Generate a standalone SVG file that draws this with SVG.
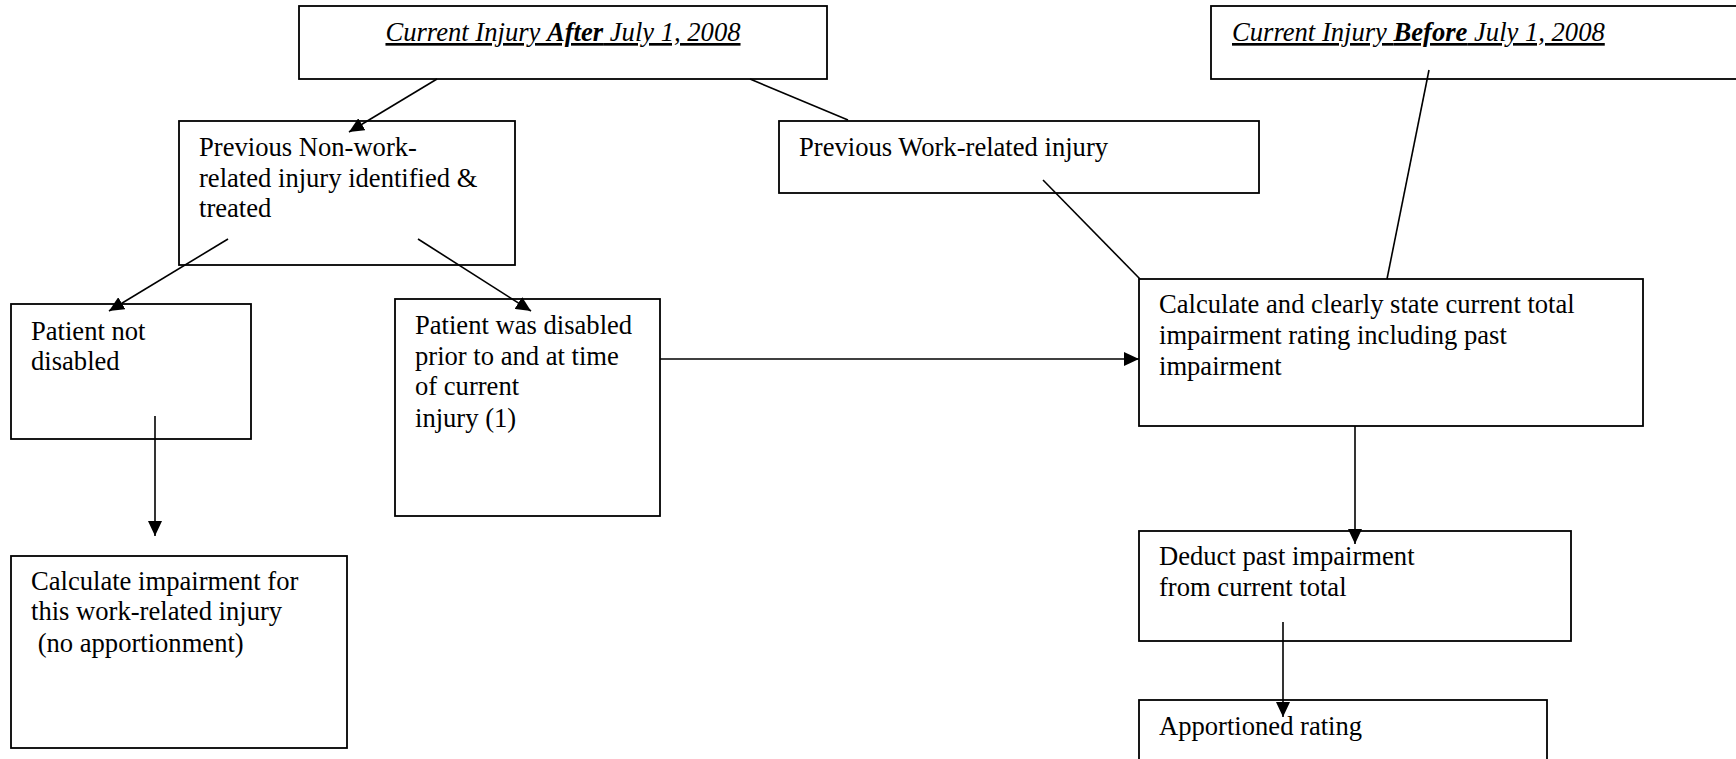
<svg xmlns="http://www.w3.org/2000/svg" width="1736" height="759" viewBox="0 0 1736 759">
<style>
rect.box{fill:#fff;stroke:#000;stroke-width:1.8}
text{font-family:"Liberation Serif","Times New Roman",serif;font-size:26.6px;fill:#000}
.title{font-style:italic;text-decoration:underline}
.b{font-weight:bold}
.conn line{stroke:#000;stroke-width:1.6}
</style>
<defs>
<marker id="arr" markerUnits="userSpaceOnUse" markerWidth="15" markerHeight="14" refX="15" refY="7" orient="auto">
<path d="M0,0 L15,7 L0,14 Z" fill="#000"/>
</marker>
</defs>
<rect width="1736" height="759" fill="#fff"/>

<g id="after">
<rect class="box" x="299" y="6" width="528" height="73"/>
<text class="title" x="563" y="41" text-anchor="middle">Current Injury <tspan class="b">After</tspan> July 1, 2008</text>
</g>
<g id="before">
<rect class="box" x="1211" y="6" width="540" height="73"/>
<text class="title" x="1232" y="41">Current Injury <tspan class="b">Before</tspan> July 1, 2008</text>
</g>
<g id="nonwork">
<rect class="box" x="179" y="121" width="336" height="144"/>
<text x="199" y="156">Previous Non-work-</text>
<text x="199" y="186.5">related injury identified &amp;</text>
<text x="199" y="217">treated</text>
</g>
<g id="work">
<rect class="box" x="779" y="121" width="480" height="72"/>
<text x="799" y="156">Previous Work-related injury</text>
</g>
<g id="notdisabled">
<rect class="box" x="11" y="304" width="240" height="135"/>
<text x="31" y="340">Patient not</text>
<text x="31" y="370">disabled</text>
</g>
<g id="wasdisabled">
<rect class="box" x="395" y="299" width="265" height="217"/>
<text x="415" y="334">Patient was disabled</text>
<text x="415" y="365">prior to and at time</text>
<text x="415" y="395">of current</text>
<text x="415" y="427">injury (1)</text>
</g>
<g id="calcnoapp">
<rect class="box" x="11" y="556" width="336" height="192"/>
<text x="31" y="590">Calculate impairment for</text>
<text x="31" y="620">this work-related injury</text>
<text x="31" y="652" xml:space="preserve"> (no apportionment)</text>
</g>
<g id="calctotal">
<rect class="box" x="1139" y="279" width="504" height="147"/>
<text x="1159" y="313">Calculate and clearly state current total</text>
<text x="1159" y="344">impairment rating including past</text>
<text x="1159" y="375">impairment</text>
</g>
<g id="deduct">
<rect class="box" x="1139" y="531" width="432" height="110"/>
<text x="1159" y="565">Deduct past impairment</text>
<text x="1159" y="596">from current total</text>
</g>
<g id="apportioned">
<rect class="box" x="1139" y="700" width="408" height="80"/>
<text x="1159" y="735">Apportioned rating</text>
</g>

<g class="conn" id="connectors">
<line x1="437" y1="79" x2="349" y2="132" marker-end="url(#arr)"/>
<line x1="750" y1="79" x2="848" y2="120"/>
<line x1="228" y1="239" x2="109" y2="311" marker-end="url(#arr)"/>
<line x1="418" y1="239" x2="531" y2="311" marker-end="url(#arr)"/>
<line x1="155" y1="416" x2="155" y2="536" marker-end="url(#arr)"/>
<line x1="660" y1="359" x2="1139" y2="359" marker-end="url(#arr)"/>
<line x1="1043" y1="180" x2="1140" y2="279"/>
<line x1="1429" y1="70" x2="1387" y2="279"/>
<line x1="1355" y1="426" x2="1355" y2="544" marker-end="url(#arr)"/>
<line x1="1283" y1="622" x2="1283" y2="717" marker-end="url(#arr)"/>
</g>
</svg>
